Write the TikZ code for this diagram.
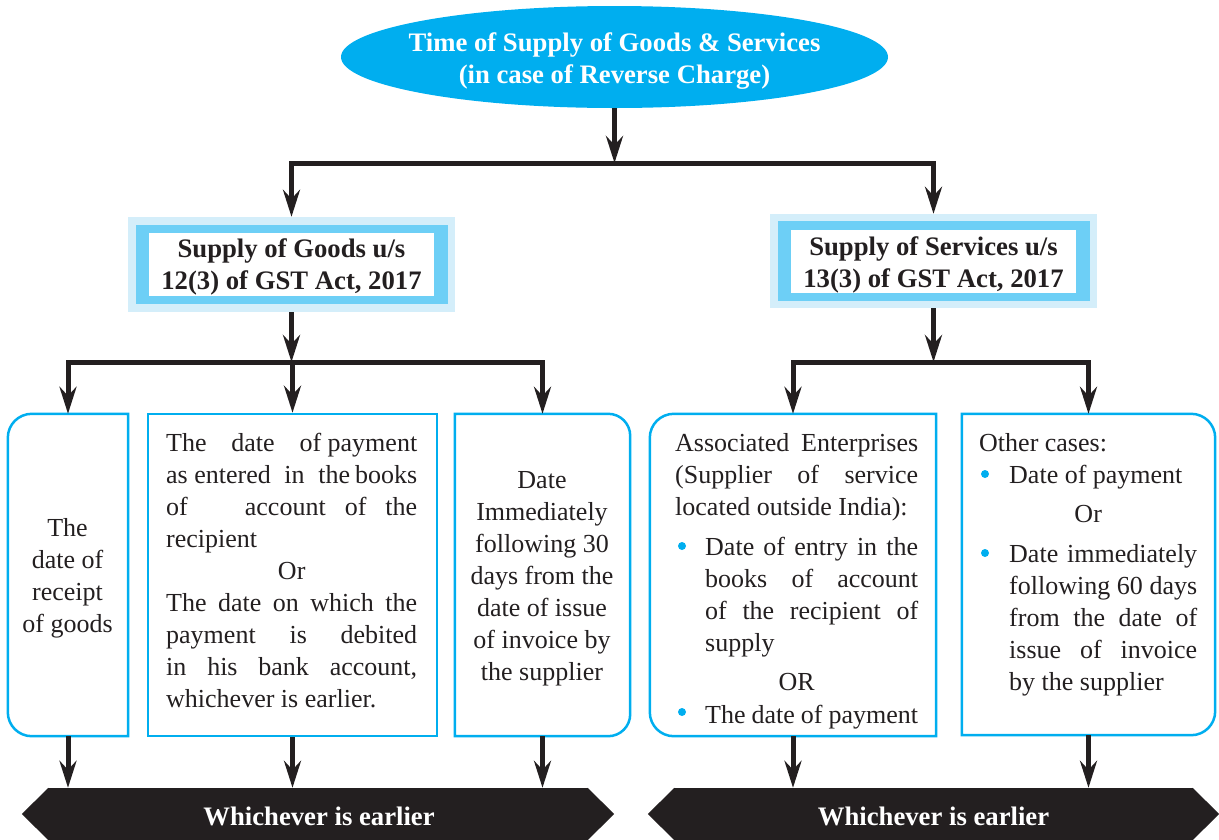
\documentclass[tikz,border=0pt]{standalone}
\usepackage{fontspec}
\setmainfont{Liberation Serif}
\usetikzlibrary{arrows.meta,shapes.geometric}
\setlength{\parindent}{0pt}
\definecolor{cy}{HTML}{00AEEF}
\definecolor{cymid}{HTML}{6DCFF6}
\definecolor{cylight}{HTML}{D4EEFA}
\definecolor{ink}{HTML}{231F20}
\newcommand{\myind}{\hspace*{30pt}}
\newcommand{\myjl}[2]{\makebox[#1][s]{\spaceskip=.25em plus 20em minus .05em\relax #2}}
\newcommand{\myl}[2]{\makebox[#1][l]{\spaceskip=.25em\relax #2}}
\newcommand{\myc}[2]{\makebox[#1][c]{\spaceskip=.25em\relax #2}}
\begin{document}
\begin{tikzpicture}[x=1pt,y=-1pt,
  body/.style={font=\fontsize{26}{32}\selectfont, text=ink, inner sep=0pt},
  hb/.style={font=\bfseries\fontsize{26.7}{32}\selectfont, inner sep=0pt, align=center},
  bx/.style={draw=cy, line width=2.5pt},
  hold/.style={draw=none, inner sep=0pt},
  dot/.style={fill=cy},
  conn/.style={draw=ink, line width=5pt, line join=miter},
  arr/.style={conn, -{Stealth[length=27pt,width=17pt,inset=9pt]}},
]
\useasboundingbox (0,0) rectangle (1219,839);

% top ellipse
\node[ellipse, fill=cy, minimum width=547pt, minimum height=102pt, inner sep=0pt] (top) at (614.5,57) {};
\node[hb, text=white] (topt) at (614.5,61)
  {Time of Supply of Goods \& Services\\(in case of Reverse Charge)};

% goods header
\node[fill=cylight, minimum width=327pt, minimum height=95pt, inner sep=0pt] (G) at (291.5,264.5) {};
\node[fill=cymid, minimum width=312pt, minimum height=79pt, inner sep=0pt] (Gm) at (G.center) {};
\node[fill=white, minimum width=285pt, minimum height=63pt, inner sep=0pt] (Gw) at (G.center) {};
\node[hb, text=ink] (Gt) at (291.5,266.5) {Supply of Goods u/s\\12(3) of GST Act, 2017};

% services header
\node[fill=cylight, minimum width=327pt, minimum height=94pt, inner sep=0pt] (S) at (933.5,261) {};
\node[fill=cymid, minimum width=312pt, minimum height=80pt, inner sep=0pt] (Sm) at (S.center) {};
\node[fill=white, minimum width=285pt, minimum height=63pt, inner sep=0pt] (Sw) at (S.center) {};
\node[hb, text=ink] (St) at (933.5,265) {Supply of Services u/s\\13(3) of GST Act, 2017};

% lower boxes
\node[hold, minimum width=120pt, minimum height=322pt] (A) at (68,575) {};
\draw[bx] (A.south) -- (A.south east) -- (A.north east) -- (A.north) [rounded corners=24pt] -- (A.north west) -- (A.south west) -- cycle;
\node[hold, draw=cy, line width=2.5pt, minimum width=289pt, minimum height=322pt] (B) at (292.5,575) {};
\node[hold, minimum width=175pt, minimum height=322pt] (C) at (542.5,575) {};
\draw[bx] (C.south) -- (C.south west) -- (C.north west) -- (C.north) [rounded corners=22pt] -- (C.north east) -- (C.south east) -- cycle;
\node[hold, minimum width=286pt, minimum height=322pt] (D) at (793,575) {};
\draw[bx] (D.south) -- (D.south east) -- (D.north east) -- (D.north) [rounded corners=24pt] -- (D.north west) -- (D.south west) -- cycle;
\node[hold, minimum width=253pt, minimum height=321pt] (E) at (1088.5,574.5) {};
\draw[bx] (E.south) -- (E.south west) -- (E.north west) -- (E.north) [rounded corners=24pt] -- (E.north east) -- (E.south east) -- cycle;

% texts
\node[body, text width=113pt, anchor=base] (At) at (68,536)
  {\myc{112pt}{The}\\\myc{112pt}{date of}\\\myc{112pt}{receipt}\\\myc{112pt}{of goods}};
\node[body, text width=253pt, anchor=base west] (Bt) at (166,451)
  {\myjl{251pt}{The date of\hspace{6.5pt}payment}\\
   \myjl{251pt}{as\hspace{6.5pt}entered in the\hspace{5pt}books}\\
   \myjl{251pt}{of\hspace{38pt} account of the}\\
   \myl{251pt}{recipient}\\
   \myc{251pt}{Or}\\
   \myjl{251pt}{The date on which the}\\
   \myjl{251pt}{payment is debited}\\
   \myjl{251pt}{in his bank account,}\\
   \myl{251pt}{whichever is earlier.}};
\node[body, text width=171pt, anchor=base] (Ct) at (542.5,488)
  {\myc{170pt}{Date}\\\myc{170pt}{Immediately}\\\myc{170pt}{following 30}\\\myc{170pt}{days from the}\\
   \myc{170pt}{date of issue}\\\myc{170pt}{of invoice by}\\\myc{170pt}{the supplier}};
\node[body, text width=245pt, anchor=base west] (Dt) at (675,451)
  {\myjl{243pt}{Associated Enterprises}\\
   \myjl{243pt}{(Supplier of service}\\
   \myl{243pt}{located outside India):}\\[8pt]
   \myind\myjl{213pt}{Date of entry in the}\\
   \myind\myjl{213pt}{books of account}\\
   \myind\myjl{213pt}{of the recipient of}\\
   \myind\myl{213pt}{supply}\\[7pt]
   \myc{243pt}{OR}\\[1pt]
   \myind\myjl{213pt}{The date of payment}};
\node[body, text width=220pt, anchor=base west] (Et) at (979,451)
  {\myl{218pt}{Other cases:}\\
   \myind\myl{188pt}{Date of payment}\\[7pt]
   \myc{218pt}{Or}\\[8pt]
   \myind\myjl{188pt}{Date immediately}\\
   \myind\myjl{188pt}{following 60 days}\\
   \myind\myjl{188pt}{from the date of}\\
   \myind\myjl{188pt}{issue of invoice}\\
   \myind\myl{188pt}{by the supplier}};

% bullets
\fill[dot] (682,546) circle (4pt);
\fill[dot] (682,712) circle (4pt);
\fill[dot] (985,474) circle (4pt);
\fill[dot] (985,553) circle (4pt);

% banners
\node[fill=ink, minimum width=540pt, minimum height=52pt, inner sep=0pt] (L) at (318,814) {};
\fill[ink] ([xshift=0.6pt]L.north west) -- ([xshift=-26pt]L.west) -- ([xshift=0.6pt]L.south west) -- cycle;
\fill[ink] ([xshift=-0.6pt]L.north east) -- ([xshift=26pt]L.east) -- ([xshift=-0.6pt]L.south east) -- cycle;
\node[hb, text=white] (Lt) at (319,816) {Whichever is earlier};
\node[fill=ink, minimum width=519pt, minimum height=52pt, inner sep=0pt] (R) at (933.5,814) {};
\fill[ink] ([xshift=0.6pt]R.north west) -- ([xshift=-26pt]R.west) -- ([xshift=0.6pt]R.south west) -- cycle;
\fill[ink] ([xshift=-0.6pt]R.north east) -- ([xshift=26pt]R.east) -- ([xshift=-0.6pt]R.south east) -- cycle;
\node[hb, text=white] (Rt) at (933.5,816) {Whichever is earlier};

% connectors
\coordinate (b1) at (614.5,163);
\draw[arr] (top.south) -- (b1);
\draw[arr] (b1) -| (G.north);
\draw[arr] (b1) -| (S.north);
\coordinate (b2) at (291.5,362);
\draw[arr] (G.south) -- (b2);
\draw[arr] (b2) -| (A.north);
\draw[arr] (b2) -| (B.north);
\draw[arr] (b2) -| (C.north);
\coordinate (b3) at (933.5,362);
\draw[arr] (S.south) -- (b3);
\draw[arr] (b3) -| (D.north);
\draw[arr] (b3) -| (E.north);
\draw[arr] (A.south) -- (A.south |- L.north);
\draw[arr] (B.south) -- (B.south |- L.north);
\draw[arr] (C.south) -- (C.south |- L.north);
\draw[arr] (D.south) -- (D.south |- R.north);
\draw[arr] (E.south) -- (E.south |- R.north);
\end{tikzpicture}
\end{document}
